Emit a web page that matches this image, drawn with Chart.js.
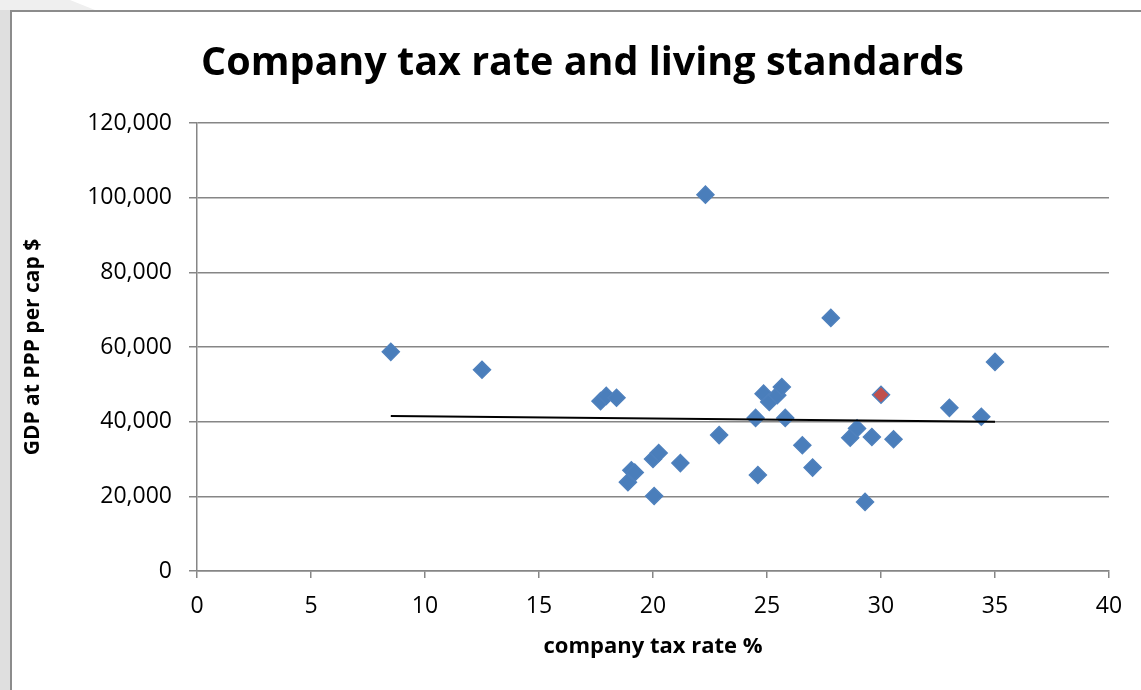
<!DOCTYPE html>
<html>
<head>
<meta charset="utf-8">
<script src="https://cdn.jsdelivr.net/npm/chart.js@4.4.1/dist/chart.umd.min.js"></script>
<style>
  html, body { margin: 0; padding: 0; background: #fff; }
  body { width: 1141px; height: 690px; position: relative; overflow: hidden; }
  .side { position: absolute; left: 0; top: 0; width: 10px; height: 690px; background: #dfdfdf; }
  .corner { position: absolute; left: 0; top: 0; width: 95px; height: 10px; background: #efefef;
            clip-path: polygon(0 0, 70px 0, 95px 10px, 0 10px); }
  .frame { position: absolute; left: 10px; top: 10px; right: 0; bottom: 0;
           border-left: 2px solid #8c8c8c; border-top: 2px solid #8c8c8c; background: #fff; }
  .box { position: absolute; left: 0; top: 0; width: 1129px; height: 678px; }
</style>
</head>
<body>
<div class="side"></div>
<div class="corner"></div>
<div class="frame">
  <div class="box"><canvas id="myChart"></canvas></div>
</div>

<script>
// company tax rate (%) and GDP at PPP per capita ($) per country
const taxRate = [8.5, 12.5, 17.7, 17.95, 18.4, 18.9, 19.05, 19.2, 20.0, 20.25,
  20.05, 21.2, 22.3, 22.9, 24.5, 24.6, 24.85, 25.1, 25.45, 25.65,
  25.8, 26.55, 27.0, 27.8, 28.65, 28.95, 29.3, 29.6, 30.55, 33.0,
  34.4, 35.0];
const gdpPerCap = [58700, 53900, 45500, 46900, 46400, 23800, 27000, 26400, 30000, 31600,
  20100, 28900, 100800, 36400, 41000, 25700, 47500, 45300, 47100, 49300,
  41000, 33700, 27700, 67800, 35700, 38200, 18500, 35900, 35300, 43700,
  41300, 56000];

// highlighted country (drawn in red)
const highlightRate = [30.0];
const highlightGdp = [47200];

// linear trend line end points
const trendX = [8.5, 35];
const trendY = [41500, 40000];

const xTicks = [0, 5, 10, 15, 20, 25, 30, 35, 40];
const yTicks = [0, 20000, 40000, 60000, 80000, 100000, 120000];

const toPoints = (xs, ys) => xs.map((x, i) => ({ x: x, y: ys[i] }));

const gridGrey = '#868686';
const tickFont = { family: 'Open Sans', size: 23 };

const ctx = document.getElementById('myChart');

new Chart(ctx, {
  type: 'scatter',
  data: {
    datasets: [
      {
        label: 'trend',
        type: 'line',
        data: toPoints(trendX, trendY),
        borderColor: '#000',
        borderWidth: 2,
        pointRadius: 0,
        fill: false,
        order: 0
      },
      {
        label: 'highlight',
        data: toPoints(highlightRate, highlightGdp),
        pointStyle: 'rectRot',
        pointRadius: 8.5,
        backgroundColor: '#C0504D',
        borderColor: '#4F81BD',
        borderWidth: 1.5,
        order: 1
      },
      {
        label: 'countries',
        data: toPoints(taxRate, gdpPerCap),
        pointStyle: 'rectRot',
        pointRadius: 8.5,
        backgroundColor: '#4A7EBB',
        borderColor: '#4F81BD',
        borderWidth: 1.5,
        order: 2
      }
    ]
  },
  options: {
    responsive: true,
    maintainAspectRatio: false,
    animation: false,
    // left padding pushes the title centre to the right of the plot centre
    layout: { padding: { left: 44, right: 32, top: 0, bottom: 0 } },
    plugins: {
      legend: { display: false },
      tooltip: { enabled: false },
      title: {
        display: true,
        text: 'Company tax rate and living standards',
        color: '#000',
        font: { family: 'Open Sans', size: 39.5, weight: 'bold', lineHeight: 1.2 },
        padding: { top: 28, bottom: 35.6 }
      }
    },
    scales: {
      x: {
        type: 'linear',
        min: 0,
        max: 40,
        afterFit: (scale) => { scale.height = 119; },
        afterBuildTicks: (scale) => { scale.ticks = xTicks.map(v => ({ value: v })); },
        ticks: { color: '#000', font: tickFont, padding: 15 },
        grid: { drawOnChartArea: false, color: gridGrey, lineWidth: 1.5, tickLength: 7 },
        border: { display: true, color: gridGrey, width: 1.5 },
        title: {
          display: true,
          text: 'company tax rate %',
          color: '#000',
          font: { family: 'Open Sans', size: 22, weight: 'bold', lineHeight: 1.2 },
          padding: { top: 0, bottom: 30 }
        }
      },
      y: {
        type: 'linear',
        min: 0,
        max: 120000,
        afterFit: (scale) => { scale.width = 141; },
        afterBuildTicks: (scale) => { scale.ticks = yTicks.map(v => ({ value: v })); },
        ticks: {
          color: '#000',
          font: tickFont,
          padding: 17,
          callback: (v) => v.toLocaleString('en-US')
        },
        grid: { color: gridGrey, lineWidth: 1.5, tickLength: 8 },
        border: { display: true, color: gridGrey, width: 1.5 },
        title: {
          display: true,
          text: 'GDP at PPP per cap $',
          color: '#000',
          font: { family: 'Open Sans', size: 21, weight: 'bold', lineHeight: 1.2 },
          // pulled back into the left padding
          padding: { top: -35.6, bottom: 0 }
        }
      }
    }
  }
});
</script>
</body>
</html>
